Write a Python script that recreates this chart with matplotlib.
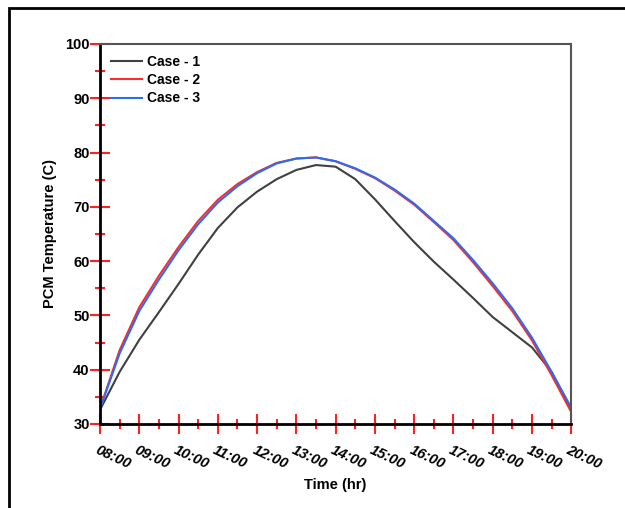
import numpy as np
import matplotlib.pyplot as plt
from matplotlib.patches import Rectangle
from matplotlib.transforms import ScaledTranslation

plt.rcParams['font.family'] = ['Liberation Sans', 'DejaVu Sans']
plt.rcParams['font.weight'] = 'bold'

# time in hours, half-hour steps from 08:00 to 20:00
hours = [8, 8.5, 9, 9.5, 10, 10.5, 11, 11.5, 12, 12.5, 13, 13.5, 14,
         14.5, 15, 15.5, 16, 16.5, 17, 17.5, 18, 18.5, 19, 19.5, 20]
case1 = [32.6, 39.6, 45.5, 50.6, 55.8, 61.2, 66.1, 69.9, 72.8, 75.1, 76.8, 77.7, 77.4,
         75.1, 71.4, 67.4, 63.5, 59.9, 56.6, 53.2, 49.7, 46.9, 44.1, 39.6, 32.4]
case2 = [32.8, 43.6, 51.5, 57.3, 62.6, 67.4, 71.3, 74.2, 76.4, 78.1, 78.9, 79.1, 78.4,
         77.0, 75.3, 73.0, 70.4, 67.2, 63.9, 59.8, 55.4, 50.8, 45.4, 39.0, 32.2]
case3 = [32.8, 43.0, 50.8, 56.6, 62.0, 66.8, 70.8, 73.8, 76.2, 78.0, 78.9, 79.1, 78.4,
         77.1, 75.4, 73.2, 70.6, 67.4, 64.2, 60.2, 55.9, 51.3, 45.9, 39.6, 33.0]
tick_labels = ['08:00', '09:00', '10:00', '11:00', '12:00', '13:00', '14:00',
               '15:00', '16:00', '17:00', '18:00', '19:00', '20:00']

fig = plt.figure(figsize=(6.25, 5.08), dpi=100)
ax = fig.add_axes([0.16, 0.1654, 0.754, 0.748])

# outer frame of the figure
fig.patches.append(Rectangle((9 / 625, -0.1), 1.2, 1.1 - 8 / 508, transform=fig.transFigure,
                             fill=False, edgecolor='black', linewidth=2))

ax.plot(hours, case1, color='#404040', lw=1.5, label='Case - 1', solid_joinstyle='round')
ax.plot(hours, case2, color='#ff2a2a', lw=1.5, label='Case - 2', solid_joinstyle='round')
ax.plot(hours, case3, color='#2a6df0', lw=1.5, label='Case - 3', solid_joinstyle='round')

ax.set_xlim(8, 20)
ax.set_ylim(30, 100)
ax.set_xticks(np.arange(8, 21, 1))
ax.set_xticks(np.arange(8.5, 20, 1), minor=True)
ax.set_yticks(np.arange(30, 101, 10))
ax.set_yticks(np.arange(35, 100, 10), minor=True)
ax.set_xticklabels(tick_labels, rotation=-25, ha='left', va='top',
                   fontsize=10.5, fontstyle='italic', fontweight='bold')
ax.tick_params(axis='y', labelsize=10.5, pad=0)
ax.tick_params(axis='x', pad=6)
for lbl in ax.get_yticklabels():
    lbl.set_fontweight('bold')
ax.tick_params(which='major', direction='inout', length=15, width=1.5, color='#ff2020')
ax.tick_params(which='minor', direction='inout', length=7, width=1.5, color='#ff2020')

offset = ScaledTranslation(-7 / 100, 0, fig.dpi_scale_trans)
for lbl in ax.get_xticklabels():
    lbl.set_transform(lbl.get_transform() + offset)

for side in ['left', 'bottom']:
    ax.spines[side].set_color('black')
    ax.spines[side].set_linewidth(2)
for side in ['top', 'right']:
    ax.spines[side].set_color('#555555')
    ax.spines[side].set_linewidth(1.5)

ax.set_xlabel('Time (hr)', fontsize=10.5, fontweight='bold', labelpad=5)
ax.set_ylabel('PCM Temperature (C)', fontsize=10.5, fontweight='bold', labelpad=6)

ax.legend(loc='upper left', frameon=False, handlelength=2.2,
          handletextpad=0.4, labelspacing=0.3, borderaxespad=0.4,
          prop={'weight': 'bold', 'size': 10})

fig.savefig('out.png', dpi=100)
